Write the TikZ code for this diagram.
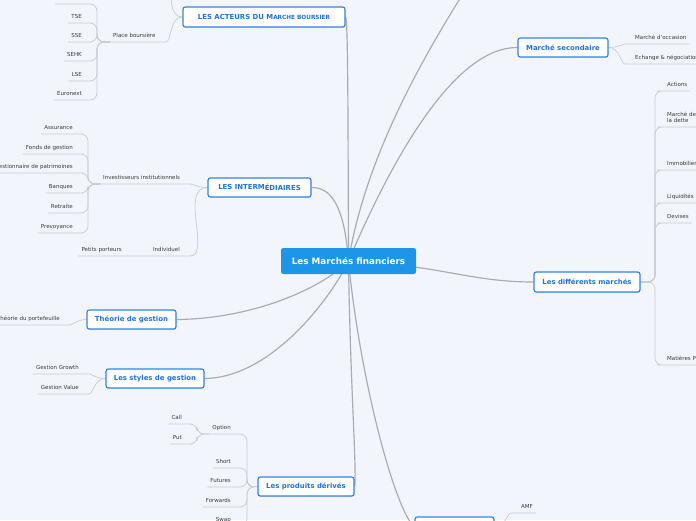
\documentclass[tikz,border=0pt]{standalone}
\usepackage{fontspec}
\setsansfont{DejaVu Sans}
\usetikzlibrary{positioning, shadows, backgrounds}
\definecolor{pagebg}{HTML}{F2F5FC}
\definecolor{rootblue}{HTML}{1E96E8}
\definecolor{topicblue}{HTML}{1D74DF}
\definecolor{linkgray}{HTML}{ABABB0}
\definecolor{leafgray}{HTML}{CACBD3}
\definecolor{leaftext}{HTML}{3A3A3A}
\pgfdeclarelayer{paper}
\pgfdeclarelayer{links}
\pgfsetlayers{paper,links,main}
\newcommand{\rootfont}{\sffamily\bfseries\fontsize{7.5}{9}\selectfont}
\newcommand{\topicfont}{\sffamily\bfseries\fontsize{5.9}{7}\selectfont}
\newcommand{\leaffont}{\sffamily\fontsize{4.7}{5.2}\selectfont}
\tikzset{
  rootbox/.style={fill=rootblue, text=white, font=\rootfont, rounded corners=2pt,
    inner sep=0pt, minimum height=0.78cm},
  topic/.style={draw=topicblue!90!white, fill=white, text=topicblue, font=\topicfont,
    line width=1pt, rounded corners=2pt, inner sep=0pt, minimum height=0.57cm,
    drop shadow={shadow xshift=0.3pt, shadow yshift=-0.6pt, opacity=0.25}},
  leaf/.style={text=leaftext, font=\leaffont, inner xsep=2.5pt, inner ysep=2.5pt,
    text height=3.6pt, text depth=1.3pt}
}
\tikzset{
  mainlink/.style={draw=linkgray, line width=1pt},
  leaflink/.style={draw=leafgray, line width=0.6pt, rounded corners=6pt}
}

\begin{document}
\begin{tikzpicture}[x=0.03cm, y=-0.03cm]
\useasboundingbox (0,0) rectangle (696,520);
\begin{pgfonlayer}{paper}
  \fill[pagebg] (0,0) rectangle (696,520);
\end{pgfonlayer}

% centre
\node[rootbox, minimum width=4.05cm] (root) at (348.5,261) {Les Marchés financiers};

% branches
\node[topic, minimum width=4.86cm, minimum height=0.6cm] (acteurs) at (264,17)
  {LES ACTEURS DU M{\fontsize{4.9}{6}\selectfont ARCHE BOURSIER}};
\node[topic, minimum width=3.09cm] (inter) at (259.5,187.5) {LES INTERM\raisebox{-1.2pt}{ÉDIAIRES}};
\node[topic, minimum width=2.67cm] (theorie) at (131.5,319.5) {Théorie de gestion};
\node[topic, minimum width=2.94cm] (styles) at (155,378.5) {Les styles de gestion};
\node[topic, minimum width=2.88cm] (derives) at (306,486.5) {Les produits dérivés};
\node[topic, minimum width=2.37cm, minimum height=0.6cm] (autorites) at (454.5,527) {};
\node[topic, minimum width=2.7cm] (secondaire) at (563,47.5) {Marché secondaire};
\node[topic, minimum width=3.18cm, minimum height=0.6cm] (marches) at (587,282) {Les différents marchés};
\coordinate (hautcache) at (475,-25);

% acteurs
\node[leaf, anchor=south west] (place) at (110,42) {Place boursière};
\coordinate (placejoin) at (97,42);
\coordinate (placehaut) at (55,4);
\coordinate (placehautfin) at (85,4);
\coordinate (acteurshaut) at (171,-8);
\foreach \n/\y/\t in {tse/23/TSE, sse/42/SSE, sehk/61/SEHK, lse/81/LSE, euronext/100/Euronext}
  \node[leaf, anchor=south east] (\n) at (85,\y) {\t};

% intermediaires
\node[leaf, anchor=south west] (institutionnels) at (100,184) {Investisseurs institutionnels};
\coordinate (instjoin) at (88,184);
\foreach \n/\y/\t in {assurance/134/Assurance, fonds/154/Fonds de gestion,
    gestionnaire/173/Gestionnaire de patrimoines, banques/193/Banques,
    retraite/213/Retraite, prevoyance/233/Prevoyance}
  \node[leaf, anchor=south east] (\n) at (76,\y) {\t};
\node[leaf, anchor=south east] (individuel) at (183,256) {Individuel};
\node[leaf, anchor=south east] (porteurs) at (125,256) {Petits porteurs};

% gestion
\node[leaf, anchor=south east] (portefeuille) at (63,325) {Théorie du portefeuille};
\node[leaf, anchor=south east] (growth) at (82,374) {Gestion Growth};
\node[leaf, anchor=south east] (value) at (82,394) {Gestion Value};

% derives
\node[leaf, anchor=south east] (call) at (185,424) {Call};
\node[leaf, anchor=south east] (put) at (185,444) {Put};
\coordinate (optjoin) at (197,434);
\foreach \n/\y/\t in {option/434/Option, short/468/Short, futures/487/Futures,
    forwards/507/Forwards, swap/526/Swap}
  \node[leaf, anchor=south east] (\n) at (234,\y) {\t};
\coordinate (derjoin) at (247,487);

% droite
\node[leaf, anchor=south west] (amf) at (518,513) {AMF};
\node[leaf, anchor=south west] (occasion) at (632,44) {Marché d'occasion};
\node[leaf, anchor=south west] (echange) at (632,64) {Echange \& négociation};
\coordinate (marchjoin) at (655,282);
\foreach \n/\y/\t in {actions/91/Actions, immobilier/170/Immobilier, liquidites/203/Liquidités,
    devises/223/Devises, matieres/365/Matières Premières}
  \node[leaf, anchor=south west] (\n) at (664,\y) {\t};
\node[leaf, anchor=south west, align=left, text height={}, text depth={}, inner ysep=3.8pt]
  (dette) at (664,127) {Marché de\\la dette};

\begin{pgfonlayer}{links}
  % from the centre
  \draw[mainlink] (root.center) .. controls (348,120) and (348,17) .. (acteurs.east);
  \draw[mainlink] (root.center) .. controls (345,215) and (335,187) .. (inter.east);
  \draw[mainlink] (root.center) .. controls (320,290) and (250,319) .. (theorie.east);
  \draw[mainlink] (root.center) .. controls (330,300) and (270,378) .. (styles.east);
  \draw[mainlink] (root.center) .. controls (350,380) and (357,470) .. (derives.east);
  \draw[mainlink] (root.center) .. controls (360,380) and (395,510) .. (autorites.west);
  \draw[mainlink] (root.center) .. controls (400,140) and (460,47) .. (secondaire.west);
  \draw[mainlink] (root.center) .. controls (365,160) and (420,60) .. (hautcache);
  \draw[mainlink] (root.center) .. controls (440,265) and (470,282) .. (marches.west);

  % leaves
  \draw[leaflink] (place.south west) -- (place.south east) to[out=0,in=180] (acteurs.west);
  \draw[leaflink] (acteurs.west) to[out=180,in=-90] (acteurshaut);
  \draw[leaflink] (placehaut) -- (placehautfin) -| (placejoin) -- (place.south west);
  \foreach \n in {tse,sse,sehk,lse,euronext}
    \draw[leaflink] (\n.south west) -- (\n.south east) -| (placejoin) -- (place.south west);

  \draw[leaflink] (institutionnels.south west) -- (institutionnels.south east) to[out=0,in=180] (inter.west);
  \foreach \n in {assurance,fonds,gestionnaire,banques,retraite,prevoyance}
    \draw[leaflink] (\n.south west) -- (\n.south east) -| (instjoin) -- (institutionnels.south west);
  \draw[leaflink] (porteurs.south west) -- (individuel.south east) to[out=0,in=180] (inter.west);

  \draw[leaflink] (portefeuille.south west) -- (portefeuille.south east) to[out=0,in=180] (theorie.west);
  \foreach \n in {growth,value}
    \draw[leaflink] (\n.south west) -- (\n.south east) to[out=0,in=180] (styles.west);

  \foreach \n in {call,put}
    \draw[leaflink] (\n.south west) -- (\n.south east) -| (optjoin) -- (option.south west);
  \foreach \n in {option,short,futures,forwards,swap}
    \draw[leaflink] (\n.south west) -- (\n.south east) -| (derjoin) -- (derives.west);

  \draw[leaflink] (autorites.east) to[out=0,in=180] (amf.south west) -- (amf.south east);
  \foreach \n in {occasion,echange}
    \draw[leaflink] (secondaire.east) to[out=0,in=180] (\n.south west) -- (\n.south east);
  \foreach \n in {actions,dette,immobilier,liquidites,devises,matieres}
    \draw[leaflink] (\n.south east) -- (\n.south west) -| (marchjoin) -- (marches.east);
\end{pgfonlayer}
\end{tikzpicture}
\end{document}
